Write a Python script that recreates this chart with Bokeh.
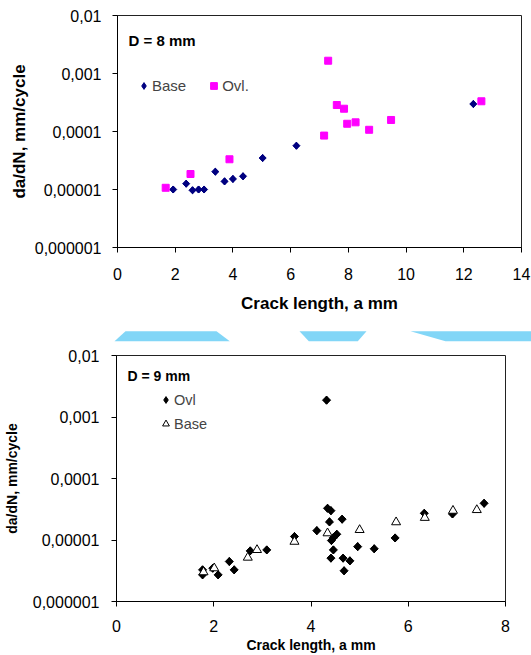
import numpy as np
from bokeh.plotting import figure
from bokeh.models import (Range1d, FixedTicker, CustomJSTickFormatter, Legend,
                          LegendItem, Label)
from bokeh.embed import file_html
from bokeh.resources import INLINE

# ---------------- data: top chart (D = 8 mm) ----------------
top_base_a = [1.93, 2.38, 2.60, 2.81, 3.00, 3.39, 3.71, 4.00, 4.35, 5.03, 6.20, 12.33]
top_base_rate = [1.0e-5, 1.26e-5, 9.7e-6, 1.0e-5, 1.0e-5, 2.03e-5, 1.38e-5, 1.52e-5,
                 1.69e-5, 3.49e-5, 5.69e-5, 2.98e-4]
top_ovl_a = [1.67, 2.53, 3.88, 7.16, 7.30, 7.60, 7.85, 7.96, 8.25, 8.72, 9.48, 12.61]
top_ovl_rate = [1.07e-5, 1.85e-5, 3.32e-5, 8.5e-5, 1.66e-3, 2.86e-4, 2.47e-4, 1.36e-4,
                1.44e-4, 1.07e-4, 1.58e-4, 3.32e-4]

# ---------------- data: bottom chart (D = 9 mm) ----------------
bot_ovl_a = [4.32, 7.56, 6.91, 6.33, 5.73, 5.30, 4.96, 4.80, 4.68, 4.66, 4.64, 4.53,
             4.46, 4.42, 4.46, 4.41, 4.38, 4.34, 4.41, 4.12, 3.66, 3.09, 2.75, 2.42,
             2.32, 2.09, 1.98, 1.77, 1.77]
bot_ovl_rate = [1.88e-3, 3.95e-5, 2.65e-5, 2.72e-5, 1.08e-5, 7.2e-6, 7.8e-6, 4.58e-6,
                3.16e-6, 5.07e-6, 2.18e-5, 1.24e-5, 1.09e-5, 9.8e-6, 6.9e-6, 5.07e-6,
                1.97e-5, 3.28e-5, 3.0e-5, 1.42e-5, 1.14e-5, 6.9e-6, 6.65e-6, 3.27e-6,
                4.47e-6, 2.71e-6, 3.48e-6, 3.27e-6, 2.71e-6]
bot_base_a = [1.79, 2.01, 2.70, 2.89, 3.66, 4.34, 5.00, 5.75, 6.34, 6.92, 7.41]
bot_base_rate = [3.0e-6, 3.48e-6, 5.18e-6, 6.9e-6, 9.4e-6, 1.29e-5, 1.46e-5, 1.95e-5,
                 2.3e-5, 3.0e-5, 3.08e-5]

# ---------------- ticks ----------------
y_tick_values = [1e-6, 1e-5, 1e-4, 1e-3, 1e-2]
y_tick_labels = ["0,000001", "0,00001", "0,0001", "0,001", "0,01"]
top_x_ticks = [0, 2, 4, 6, 8, 10, 12, 14]
bot_x_ticks = [0, 2, 4, 6, 8]

# decorative light-blue strips between the two charts (page pixels)
deco_xs = [[125, 216, 229.3, 114], [299, 366, 357.3, 308.3], [410, 531, 531, 445]]
deco_ys = [[330.7, 330.7, 340.7, 340.7], [330.7, 330.7, 340.7, 340.7],
           [330.7, 330.7, 340.7, 340.7]]

FONT = "Liberation Sans"


def y_formatter():
    return CustomJSTickFormatter(args=dict(vals=y_tick_values, labs=y_tick_labels), code="""
        let best = 0, bd = Infinity;
        for (let i = 0; i < vals.length; i++) {
            const d = Math.abs(Math.log10(tick) - Math.log10(vals[i]));
            if (d < bd) { bd = d; best = i; }
        }
        return labs[best];
    """)


def style(p, xticks, title_size, xstand, ystand, xlab_stand, ylab_stand):
    p.xgrid.visible = False
    p.ygrid.visible = False
    p.outline_line_color = "#222222"
    p.outline_line_width = 1
    p.background_fill_color = "white"
    p.border_fill_color = "white"
    p.xaxis.ticker = FixedTicker(ticks=xticks)
    p.yaxis.ticker = FixedTicker(ticks=y_tick_values)
    p.yaxis.formatter = y_formatter()
    for ax in (p.xaxis[0], p.yaxis[0]):
        ax.axis_line_color = "black"
        ax.axis_line_width = 1
        ax.major_tick_line_color = "black"
        ax.major_tick_in = 0
        ax.major_tick_out = 5
        ax.minor_tick_line_color = None
        ax.major_label_text_font = FONT
        ax.major_label_text_font_size = "16px"
        ax.major_label_text_color = "black"
        ax.axis_label_text_font = FONT
        ax.axis_label_text_font_style = "bold"
        ax.axis_label_text_font_size = title_size
        ax.axis_label_text_color = "black"
    p.xaxis.major_label_standoff = xstand
    p.yaxis.major_label_standoff = ystand
    p.xaxis.axis_label_standoff = xlab_stand
    p.yaxis.axis_label_standoff = ylab_stand


# ---------------- top figure ----------------
p1 = figure(width=531, height=322, y_axis_type="log",
            x_range=Range1d(0, 14), y_range=Range1d(1e-6, 1e-2),
            output_backend="svg", toolbar_location=None,
            min_border_left=117, min_border_right=10, min_border_top=15,
            min_border_bottom=75)
p1.xaxis.axis_label = "Crack length, a mm"
p1.yaxis.axis_label = "da/dN, mm/cycle"
style(p1, top_x_ticks, "17px", 15, 11, 11, 3)

# diamond key glyph (hidden beneath the rotated squares; used for the legend)
k_tb = p1.scatter(top_base_a, top_base_rate, marker="diamond", size=7,
                  fill_color="#000080", line_color="#000080")
r_tb = p1.scatter(top_base_a, top_base_rate, marker="square", angle=np.pi / 4, size=5,
                  fill_color="#000080", line_color="#000080")
r_to = p1.scatter(top_ovl_a, top_ovl_rate, marker="square", size=7,
                  fill_color="#FF00FF", line_color="#FF00FF")

leg1 = Legend(items=[LegendItem(label="Base", renderers=[k_tb]),
                     LegendItem(label="Ovl.", renderers=[r_to])],
              orientation="horizontal", location=(18, 153),
              glyph_width=17, glyph_height=17, label_standoff=0, spacing=19,
              padding=0, margin=0, border_line_color=None,
              background_fill_alpha=0,
              label_text_font=FONT, label_text_font_size="15px")
p1.add_layout(leg1, "center")

p1.add_layout(Label(x=11, y=207, x_units="screen", y_units="screen", text="D = 8 mm",
                    text_font=FONT, text_font_style="bold", text_font_size="15px",
                    text_baseline="middle", text_color="black"))

# ---------------- decoration strip ----------------
deco = figure(width=531, height=23, x_range=Range1d(0, 531), y_range=Range1d(345, 322),
              output_backend="svg", toolbar_location=None,
              x_axis_location=None, y_axis_location=None,
              min_border_left=0, min_border_right=0, min_border_top=0,
              min_border_bottom=0)
deco.xgrid.visible = False
deco.ygrid.visible = False
deco.outline_line_color = None
deco.patches(deco_xs, deco_ys, fill_color="#82D6F7", line_color=None)

# ---------------- bottom figure ----------------
p2 = figure(width=531, height=310, y_axis_type="log",
            x_range=Range1d(0, 8), y_range=Range1d(1e-6, 1e-2),
            output_backend="svg", toolbar_location=None,
            min_border_left=115, min_border_right=26, min_border_top=10,
            min_border_bottom=53)
p2.xaxis.axis_label = "Crack length, a mm"
p2.yaxis.axis_label = "da/dN, mm/cycle"
style(p2, bot_x_ticks, "14px", 13, 12, 2, 10)

k_bo = p2.scatter(bot_ovl_a, bot_ovl_rate, marker="diamond", size=8,
                  fill_color="black", line_color="black")
r_bo = p2.scatter(bot_ovl_a, bot_ovl_rate, marker="square", angle=np.pi / 4, size=5.7,
                  fill_color="black", line_color="black")
r_bb = p2.scatter(bot_base_a, bot_base_rate, marker="triangle", size=9,
                  fill_color="white", line_color="black", line_width=1)

leg2 = Legend(items=[LegendItem(label="Ovl", renderers=[k_bo]),
                     LegendItem(label="Base", renderers=[r_bb])],
              orientation="vertical", location=(41, 169),
              glyph_width=17, glyph_height=17, label_standoff=0, spacing=7,
              padding=0, margin=0, border_line_color=None,
              background_fill_alpha=0,
              label_text_font=FONT, label_text_font_size="14.5px")
p2.add_layout(leg2, "center")

p2.add_layout(Label(x=11, y=226, x_units="screen", y_units="screen", text="D = 9 mm",
                    text_font=FONT, text_font_style="bold", text_font_size="14px",
                    text_baseline="middle", text_color="black"))

open("out.html", "w").write(file_html([p1, deco, p2], INLINE))
